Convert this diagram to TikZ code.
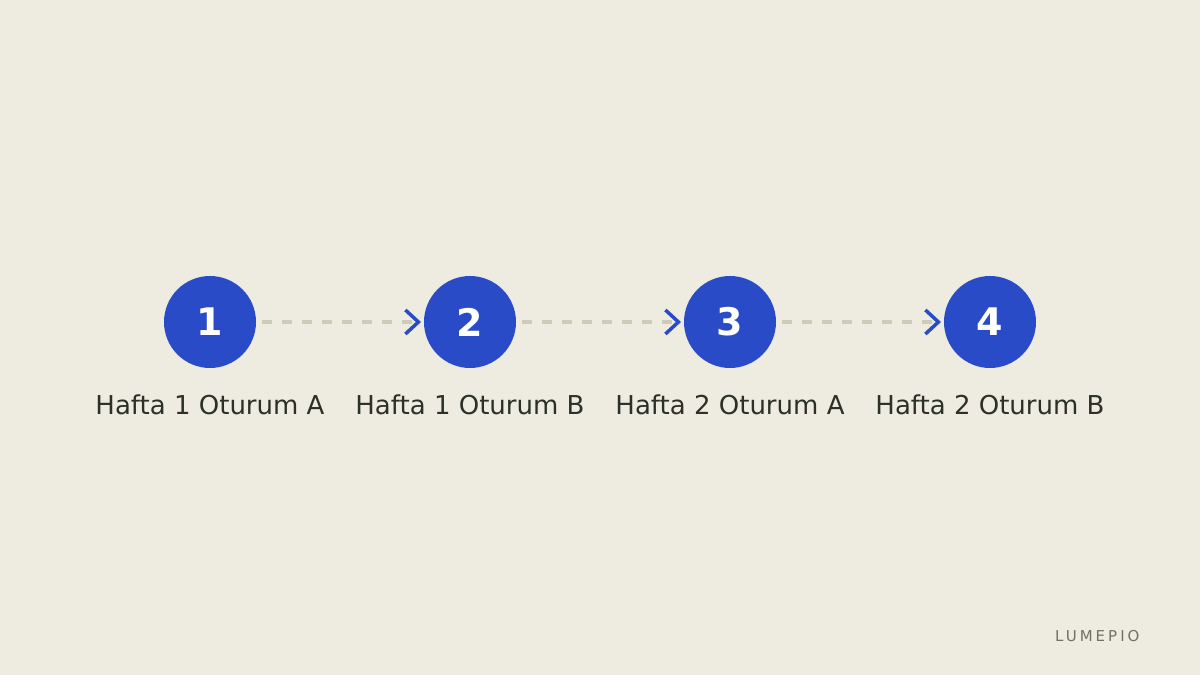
\documentclass[tikz,border=0pt]{standalone}
\usepackage{fontspec}
\setmainfont{DejaVu Sans}
\usetikzlibrary{positioning,arrows.meta}
\definecolor{paper}{HTML}{EEEBE0}
\definecolor{stepblue}{HTML}{2A4BC8}
\definecolor{dashgray}{HTML}{CFCBB9}
\definecolor{inkdark}{HTML}{2B3129}
\definecolor{brandgray}{HTML}{6E7366}
\tikzset{
  stepdot/.style={circle,fill=stepblue,text=white,minimum size=92pt,inner sep=0pt,outer sep=0pt,
    font=\fontsize{38}{45}\selectfont\bfseries},
  steplabel/.style={text=inkdark,font=\fontsize{26}{31}\selectfont,anchor=base,inner sep=0pt},
  steplink/.style={draw=dashgray,line width=4pt,dash pattern=on 10pt off 10pt,
    -{Straight Barb[color=stepblue,line width=3.5pt,length=13pt,width=24pt]}},
  brand/.style={text=brandgray,font=\fontsize{15}{18}\selectfont\addfontfeatures{LetterSpace=20},
    anchor=base west,inner sep=0pt}
}
\begin{document}
\begin{tikzpicture}[x=1pt,y=1pt]
  \fill[paper] (0,0) rectangle (1200,675);
  \useasboundingbox (0,0) rectangle (1200,675);
  \node[stepdot] (s1) at (210,353) {1};
  \node[stepdot,right=168pt of s1] (s2) {2};
  \node[stepdot,right=168pt of s2] (s3) {3};
  \node[stepdot,right=168pt of s3] (s4) {4};
  \node[steplabel] (l1) at (s1.center |- 0,260) {Hafta 1 Oturum A};
  \node[steplabel] (l2) at (s2.center |- 0,260) {Hafta 1 Oturum B};
  \node[steplabel] (l3) at (s3.center |- 0,260) {Hafta 2 Oturum A};
  \node[steplabel] (l4) at (s4.center |- 0,260) {Hafta 2 Oturum B};
  \draw[steplink] ([xshift=6pt]s1.east) -- ([xshift=-3pt]s2.west);
  \draw[steplink] ([xshift=6pt]s2.east) -- ([xshift=-3pt]s3.west);
  \draw[steplink] ([xshift=6pt]s3.east) -- ([xshift=-3pt]s4.west);
  \node[brand] (logo) at (1055,34) {LUMEPIO};
\end{tikzpicture}
\end{document}
